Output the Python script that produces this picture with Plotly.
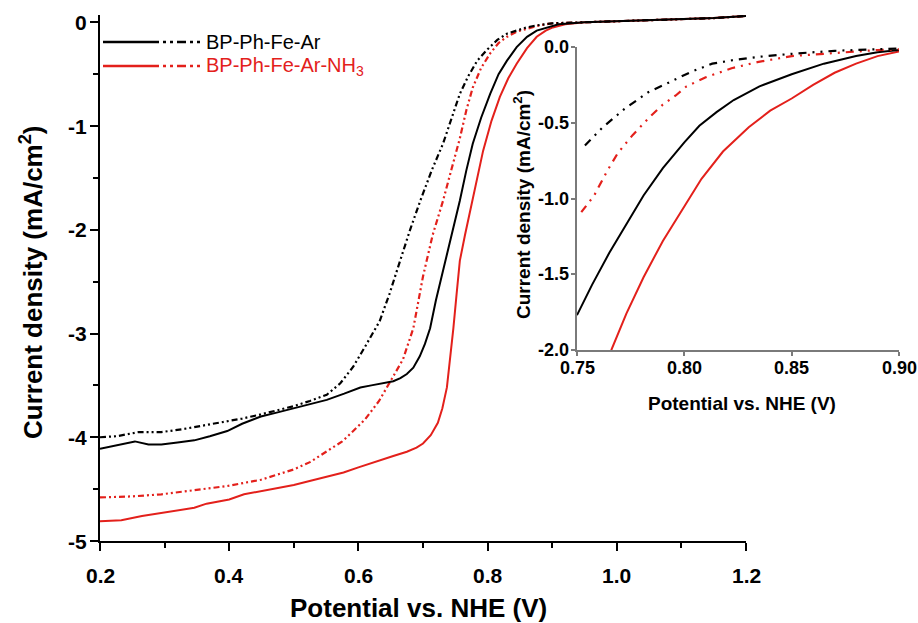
import plotly.graph_objects as go

# ---------------- data (main panel) ----------------
ar_solid_x = [0.20, 0.225, 0.254, 0.275, 0.295, 0.32, 0.346, 0.37, 0.397, 0.42, 0.449, 0.475, 0.50, 0.525,
              0.551, 0.578, 0.603, 0.62, 0.638, 0.654, 0.665, 0.675, 0.685, 0.695, 0.703, 0.711, 0.72, 0.733,
              0.745, 0.757, 0.767, 0.777, 0.79, 0.804, 0.817, 0.83, 0.845, 0.861, 0.876, 0.892, 0.91, 0.95,
              1.0, 1.05, 1.1, 1.15, 1.2]
ar_solid_y = [-4.11, -4.08, -4.04, -4.07, -4.07, -4.05, -4.03, -3.99, -3.94, -3.87, -3.80, -3.76, -3.72, -3.68,
              -3.64, -3.58, -3.52, -3.50, -3.48, -3.46, -3.43, -3.39, -3.33, -3.22, -3.10, -2.95, -2.68, -2.35,
              -2.03, -1.72, -1.43, -1.17, -0.92, -0.69, -0.50, -0.37, -0.24, -0.14, -0.08, -0.05, -0.02, 0.0,
              0.01, 0.02, 0.03, 0.04, 0.06]

ar_dash_x = [0.20, 0.226, 0.26, 0.295, 0.33, 0.365, 0.397, 0.42, 0.449, 0.475, 0.50, 0.525, 0.551, 0.572,
             0.592, 0.61, 0.633, 0.648, 0.664, 0.68, 0.697, 0.714, 0.731, 0.744, 0.757, 0.77, 0.784, 0.80,
             0.815, 0.83, 0.845, 0.86, 0.876, 0.90, 0.95, 1.0, 1.05, 1.1, 1.15, 1.2]
ar_dash_y = [-4.00, -3.99, -3.95, -3.95, -3.92, -3.88, -3.85, -3.82, -3.78, -3.74, -3.70, -3.65, -3.59, -3.48,
             -3.32, -3.13, -2.88, -2.62, -2.30, -2.00, -1.70, -1.42, -1.17, -0.92, -0.69, -0.52, -0.37, -0.26,
             -0.17, -0.11, -0.08, -0.05, -0.03, -0.01, 0.0, 0.01, 0.02, 0.03, 0.04, 0.06]

nh3_solid_x = [0.20, 0.233, 0.265, 0.295, 0.32, 0.346, 0.365, 0.382, 0.40, 0.423, 0.45, 0.474, 0.50, 0.526,
               0.55, 0.577, 0.60, 0.628, 0.654, 0.675, 0.69, 0.70, 0.712, 0.723, 0.73, 0.737, 0.742, 0.747,
               0.752, 0.757, 0.765, 0.775, 0.784, 0.793, 0.806, 0.819, 0.832, 0.845, 0.861, 0.876, 0.89,
               0.901, 0.92, 0.95, 1.0, 1.05, 1.1, 1.15, 1.2]
nh3_solid_y = [-4.81, -4.80, -4.76, -4.73, -4.71, -4.68, -4.64, -4.62, -4.60, -4.55, -4.52, -4.49, -4.46, -4.42,
               -4.38, -4.34, -4.29, -4.23, -4.18, -4.14, -4.10, -4.06, -3.98, -3.86, -3.72, -3.52, -3.25, -2.95,
               -2.62, -2.30, -2.05, -1.75, -1.48, -1.24, -0.95, -0.72, -0.54, -0.40, -0.25, -0.14, -0.08,
               -0.05, -0.02, 0.0, 0.01, 0.02, 0.03, 0.04, 0.06]

nh3_dash_x = [0.20, 0.25, 0.295, 0.346, 0.397, 0.449, 0.50, 0.525, 0.551, 0.575, 0.592, 0.61, 0.632, 0.65,
              0.669, 0.685, 0.70, 0.715, 0.731, 0.744, 0.757, 0.767, 0.777, 0.79, 0.804, 0.817, 0.83, 0.845,
              0.861, 0.88, 0.90, 0.95, 1.0, 1.05, 1.1, 1.15, 1.2]
nh3_dash_y = [-4.58, -4.57, -4.55, -4.51, -4.47, -4.41, -4.31, -4.24, -4.14, -4.04, -3.94, -3.83, -3.65, -3.46,
              -3.25, -2.95, -2.45, -2.05, -1.72, -1.42, -1.12, -0.85, -0.63, -0.44, -0.30, -0.20, -0.14, -0.09,
              -0.06, -0.03, -0.01, 0.0, 0.01, 0.02, 0.03, 0.04, 0.06]

# ---------------- data (inset) ----------------
in_ar_solid_x = [0.75, 0.757, 0.765, 0.775, 0.781, 0.79, 0.80, 0.807, 0.815, 0.823, 0.835, 0.85, 0.865, 0.88, 0.89, 0.90]
in_ar_solid_y = [-1.77, -1.57, -1.36, -1.12, -0.98, -0.80, -0.63, -0.52, -0.43, -0.35, -0.26, -0.18, -0.11, -0.06, -0.035, -0.02]

in_nh3_solid_x = [0.762, 0.766, 0.773, 0.781, 0.79, 0.797, 0.808, 0.818, 0.83, 0.84, 0.85, 0.86, 0.87, 0.88, 0.89, 0.90]
in_nh3_solid_y = [-2.12, -2.0, -1.76, -1.52, -1.28, -1.12, -0.87, -0.69, -0.53, -0.42, -0.34, -0.25, -0.17, -0.11, -0.06, -0.03]

in_ar_dash_x = [0.7537, 0.762, 0.772, 0.783, 0.792, 0.803, 0.813, 0.823, 0.834, 0.85, 0.87, 0.89, 0.90]
in_ar_dash_y = [-0.65, -0.53, -0.41, -0.30, -0.24, -0.165, -0.11, -0.086, -0.066, -0.045, -0.025, -0.012, -0.01]

in_nh3_dash_x = [0.752, 0.758, 0.764, 0.769, 0.776, 0.784, 0.79, 0.796, 0.801, 0.81, 0.822, 0.834, 0.85, 0.87, 0.89, 0.90]
in_nh3_dash_y = [-1.09, -0.98, -0.82, -0.70, -0.58, -0.46, -0.38, -0.32, -0.26, -0.20, -0.14, -0.10, -0.06, -0.04, -0.02, -0.015]

# ---------------- tick labels ----------------
main_xticks = [0.2, 0.4, 0.6, 0.8, 1.0, 1.2]
main_xtext = ["0.2", "0.4", "0.6", "0.8", "1.0", "1.2"]
main_yticks = [0, -1, -2, -3, -4, -5]
main_ytext = ["0", "-1", "-2", "-3", "-4", "-5"]
inset_xticks = [0.75, 0.80, 0.85, 0.90]
inset_xtext = ["0.75", "0.80", "0.85", "0.90"]
inset_yticks = [0.0, -0.5, -1.0, -1.5, -2.0]
inset_ytext = ["0.0", "-0.5", "-1.0", "-1.5", "-2.0"]

series_names = ["BP-Ph-Fe-Ar", "BP-Ph-Fe-Ar-NH<sub>3</sub>"]

BLACK = "#000000"
RED = "#e3201b"
FONT = "Liberation Sans"
MAIN_DASH = "6px,3px,2px,3px,2px,3px"
INSET_DASH = "8px,6px,2px,6px,2px,6px"

W, H = 918, 623

fig = go.Figure()

# main curves
fig.add_trace(go.Scatter(x=nh3_solid_x, y=nh3_solid_y, mode="lines", line=dict(color=RED, width=2),
                         xaxis="x", yaxis="y", showlegend=False))
fig.add_trace(go.Scatter(x=nh3_dash_x, y=nh3_dash_y, mode="lines", line=dict(color=RED, width=2.2, dash=MAIN_DASH),
                         xaxis="x", yaxis="y", showlegend=False))
fig.add_trace(go.Scatter(x=ar_solid_x, y=ar_solid_y, mode="lines", line=dict(color=BLACK, width=2),
                         xaxis="x", yaxis="y", showlegend=False))
fig.add_trace(go.Scatter(x=ar_dash_x, y=ar_dash_y, mode="lines", line=dict(color=BLACK, width=2.2, dash=MAIN_DASH),
                         xaxis="x", yaxis="y", showlegend=False))

# inset curves
fig.add_trace(go.Scatter(x=in_nh3_solid_x, y=in_nh3_solid_y, mode="lines", line=dict(color=RED, width=2),
                         xaxis="x2", yaxis="y2", showlegend=False))
fig.add_trace(go.Scatter(x=in_ar_solid_x, y=in_ar_solid_y, mode="lines", line=dict(color=BLACK, width=2),
                         xaxis="x2", yaxis="y2", showlegend=False))
fig.add_trace(go.Scatter(x=in_nh3_dash_x, y=in_nh3_dash_y, mode="lines", line=dict(color=RED, width=2.2, dash=INSET_DASH),
                         xaxis="x2", yaxis="y2", showlegend=False))
fig.add_trace(go.Scatter(x=in_ar_dash_x, y=in_ar_dash_y, mode="lines", line=dict(color=BLACK, width=2.2, dash=INSET_DASH),
                         xaxis="x2", yaxis="y2", showlegend=False))


def px_x(p):
    return p / W


def px_y(p):
    return 1 - p / H


main_axis_common = dict(showgrid=False, zeroline=False, showline=True, linecolor="black", linewidth=2,
                        ticks="outside", ticklen=8, tickwidth=2, tickcolor="black",
                        showticklabels=False, automargin=False)
inset_axis_common = dict(showgrid=False, zeroline=False, showline=True, linecolor="#7a7a7a", linewidth=1.5,
                         ticks="outside", ticklen=4, tickwidth=1.5, tickcolor="#7a7a7a",
                         showticklabels=False, automargin=False)

fig.update_layout(
    width=W, height=H,
    margin=dict(l=0, r=0, t=0, b=0),
    paper_bgcolor="white", plot_bgcolor="rgba(0,0,0,0)",
    showlegend=False,
    font=dict(family=FONT),
    xaxis=dict(domain=[px_x(100), px_x(746)], range=[0.2, 1.2], anchor="y",
               tickmode="array", tickvals=main_xticks,
               minor=dict(tickvals=[0.3, 0.5, 0.7, 0.9, 1.1], ticks="outside", ticklen=5, tickwidth=2, tickcolor="black"),
               **main_axis_common),
    yaxis=dict(domain=[px_y(541), px_y(15)], range=[-5, 0.07], anchor="x",
               tickmode="array", tickvals=main_yticks,
               minor=dict(tickvals=[-0.5, -1.5, -2.5, -3.5, -4.5], ticks="outside", ticklen=5, tickwidth=2, tickcolor="black"),
               **main_axis_common),
    xaxis2=dict(domain=[px_x(577), px_x(899)], range=[0.75, 0.90], anchor="y2",
                tickmode="array", tickvals=inset_xticks, **inset_axis_common),
    yaxis2=dict(domain=[px_y(350), px_y(47)], range=[-2.0, 0.0], anchor="x2",
                tickmode="array", tickvals=inset_yticks, **inset_axis_common),
)

# bold tick labels, placed at the axes' own tick values
tick_main = dict(family=FONT, size=21, color="black", weight=700)
tick_inset = dict(family=FONT, size=18, color="black", weight=700)
for v, t in zip(main_xticks, main_xtext):
    fig.add_annotation(text=t, x=v, xref="x", y=px_y(575), yref="paper", showarrow=False,
                       xanchor="center", yanchor="middle", font=tick_main)
for v, t in zip(main_yticks, main_ytext):
    fig.add_annotation(text=t, y=v, yref="y", x=px_x(89), xref="paper", showarrow=False,
                       xanchor="right", yanchor="middle", font=tick_main)
for v, t in zip(inset_xticks, inset_xtext):
    fig.add_annotation(text=t, x=v, xref="x2", y=px_y(368), yref="paper", showarrow=False,
                       xanchor="center", yanchor="middle", font=tick_inset)
for v, t in zip(inset_yticks, inset_ytext):
    fig.add_annotation(text=t, y=v, yref="y2", x=px_x(571), xref="paper", showarrow=False,
                       xanchor="right", yanchor="middle", font=tick_inset)

# axis titles as annotations
title_font_main = dict(family=FONT, size=26, color="black", weight=700)
title_font_inset = dict(family=FONT, size=19, color="black", weight=700)
fig.add_annotation(text="Potential vs. NHE (V)", x=px_x(418), y=px_y(608), xref="paper", yref="paper",
                   showarrow=False, font=title_font_main, xanchor="center", yanchor="middle")
fig.add_annotation(text="Current density (mA/cm<sup>2</sup>)", x=px_x(31), y=px_y(282), xref="paper", yref="paper",
                   showarrow=False, font=title_font_main, textangle=-90, xanchor="center", yanchor="middle")
fig.add_annotation(text="Potential vs. NHE (V)", x=px_x(742), y=px_y(403), xref="paper", yref="paper",
                   showarrow=False, font=title_font_inset, xanchor="center", yanchor="middle")
fig.add_annotation(text="Current density (mA/cm<sup>2</sup>)", x=px_x(522), y=px_y(205), xref="paper", yref="paper",
                   showarrow=False, font=title_font_inset, textangle=-90, xanchor="center", yanchor="middle")

# legend (solid + dash-dot-dot sample, as in the original)
legend_rows = [(42, BLACK, series_names[0]), (66, RED, series_names[1])]
for ypx, col, name in legend_rows:
    fig.add_shape(type="line", xref="paper", yref="paper", x0=px_x(103), x1=px_x(150), y0=px_y(ypx), y1=px_y(ypx),
                  line=dict(color=col, width=2.5))
    fig.add_shape(type="line", xref="paper", yref="paper", x0=px_x(150), x1=px_x(200), y0=px_y(ypx), y1=px_y(ypx),
                  line=dict(color=col, width=2.5, dash="9px,4px,3px,4px,3px,4px"))
    fig.add_annotation(text=name, x=px_x(204), y=px_y(ypx), xref="paper", yref="paper", showarrow=False,
                       xanchor="left", yanchor="middle", font=dict(family=FONT, size=20, color=col))

fig.write_html("out.html")
